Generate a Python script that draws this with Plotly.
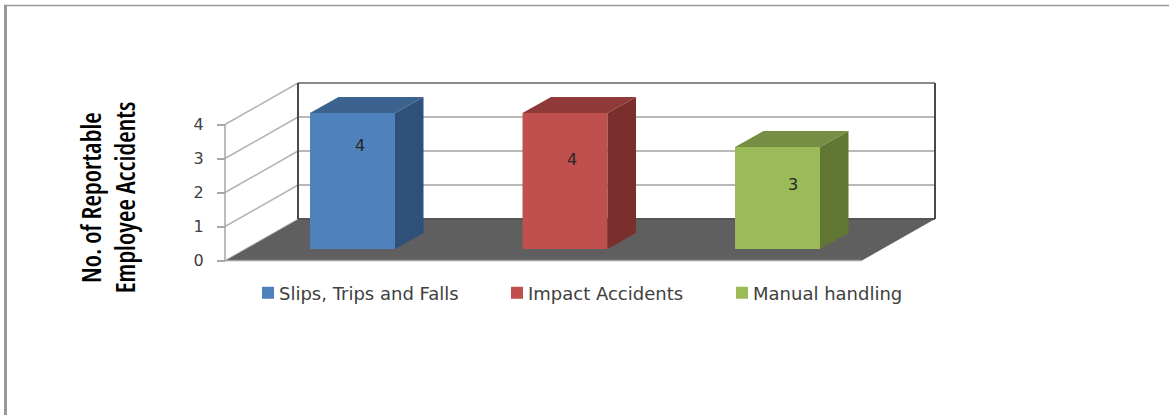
import plotly.graph_objects as go

categories = ["Slips, Trips and Falls", "Impact Accidents", "Manual handling"]
values = [4, 4, 3]
tick_values = [0, 1, 2, 3, 4]
front_colors = ["#4F81BD", "#C0504D", "#9BBB59"]
top_colors = ["#3C6290", "#8F3A38", "#768E43"]
side_colors = ["#2F5078", "#7A2F2D", "#637735"]

W, H = 1169, 415
UX, UY = 212.5, 34.0                # px per category / per accident
X0, Y_BAR0, Y_AX0 = 352.5, 249.0, 260.5
BAR_W = 85 / UX
BDX, BDV = 28.5 / UX, 16 / UY       # bar depth
WDX, WDV = 73 / UX, 41.5 / UY       # chart box depth
XL, XR = (225 - X0) / UX, (862 - X0) / UX
VMAX = max(tick_values)

fig = go.Figure()
for i, (c, v) in enumerate(zip(categories, values)):
    lg = "legend" if i == 0 else f"legend{i+1}"
    fig.add_trace(go.Bar(x=[i], y=[v], width=BAR_W, name=c, marker=dict(color=front_colors[i], line_width=0),
                         showlegend=True, legend=lg, hoverinfo="skip"))
    l, r = i - BAR_W / 2, i + BAR_W / 2
    fig.add_trace(go.Scatter(x=[r, r + BDX, r + BDX, r, r], y=[0, BDV, v + BDV, v, 0], mode="lines",
                             fill="toself", fillcolor=side_colors[i], line=dict(width=0),
                             showlegend=False, hoverinfo="skip"))
    fig.add_trace(go.Scatter(x=[l, l + BDX, r + BDX, r, l], y=[v, v + BDV, v + BDV, v, v], mode="lines",
                             fill="toself", fillcolor=top_colors[i], line=dict(width=0),
                             showlegend=False, hoverinfo="skip"))

# front edge of the left wall, carrying the value axis
fig.add_trace(go.Scatter(x=[XL, XL], y=[tick_values[0], tick_values[-1]], yaxis="y2", mode="lines",
                         line=dict(color="#A6A6A6", width=1.5), showlegend=False, hoverinfo="skip"))

shapes = []
def seg(x0, y0, x1, y1, color, width):
    shapes.append(dict(type="line", xref="x", yref="y2", x0=x0, y0=y0, x1=x1, y1=y1,
                       line=dict(color=color, width=width), layer="below"))

# floor
shapes.append(dict(type="path", xref="x", yref="y2", layer="below", fillcolor="#5F5F5F", line=dict(width=0),
                   path=f"M{XL},0 L{XL+WDX},{WDV} L{XR+WDX},{WDV} L{XR},0 Z"))
# gridlines on both walls
for t in tick_values[1:]:
    seg(XL, t, XL + WDX, t + WDV, "#B4B4B4", 1.5)
    seg(XL + WDX, t + WDV, XR + WDX, t + WDV, "#8A8A8A" if t == VMAX else "#B8B8B8", 2)
seg(XL + WDX, WDV, XR + WDX, WDV, "#555555", 2)
seg(XL, 0, XL + WDX, WDV, "#B4B4B4", 1)
seg(XL, 0, XR, 0, "#A0A0A0", 1.5)
seg(XL + WDX, WDV, XL + WDX, VMAX + WDV, "#4A4A4A", 2)
seg(XR + WDX, WDV, XR + WDX, VMAX + WDV, "#4A4A4A", 2)
# page frame
for x0, y0, x1, y1, w in [(5.5 / W, 0, 5.5 / W, 1 - 6 / H, 3), (4 / W, 1 - 5.5 / H, 1, 1 - 5.5 / H, 1.5)]:
    shapes.append(dict(type="line", xref="paper", yref="paper", x0=x0, y0=y0, x1=x1, y1=y1,
                       line=dict(color="#989898", width=w)))

LABEL_FONT = dict(family="DejaVu Sans", size=16, color="#262626")
annotations = [
    dict(x=i, y=v, xref="x", yref="y", text=str(v), showarrow=False, font=LABEL_FONT, xshift=dx, yshift=dy)
    for i, (v, dx, dy) in enumerate(zip(values, [7.5, 7, 15], [-32, -46, -37]))
]
annotations.append(dict(x=108 / W, y=1 - 198 / H, xref="paper", yref="paper", xanchor="center", yanchor="middle",
                        textangle=-90, showarrow=False,
                        text="No. of Reportable<br>Employee Accidents", align="center",
                        font=dict(family="Open Sans", size=26.5, color="#000000", weight=600)))

legend_style = dict(orientation="h", xanchor="left", yanchor="middle", y=1 - 293 / H,
                    bgcolor="rgba(0,0,0,0)", font=dict(family="DejaVu Sans", size=18, color="#404040"), itemwidth=30)

fig.update_layout(
    width=W, height=H, autosize=False, margin=dict(l=0, r=0, t=0, b=0),
    paper_bgcolor="white", plot_bgcolor="white", barmode="overlay", hovermode=False,
    xaxis=dict(range=[-X0 / UX, (W - X0) / UX], visible=False, fixedrange=True),
    yaxis=dict(range=[(Y_BAR0 - H) / UY, Y_BAR0 / UY], visible=False, fixedrange=True),
    yaxis2=dict(range=[(Y_AX0 - H) / UY, Y_AX0 / UY], overlaying="y", anchor="free", position=225 / W, side="left",
                tickvals=tick_values, ticks="outside", ticklen=8, tickwidth=1.5, tickcolor="#A6A6A6",
                ticklabelstandoff=10, showgrid=False, zeroline=False, showline=False, automargin=False, fixedrange=True,
                tickfont=dict(family="DejaVu Sans", size=16, color="#404040")),
    legend=dict(x=248 / W, **legend_style),
    legend2=dict(x=497 / W, **legend_style),
    legend3=dict(x=722 / W, **legend_style),
    shapes=shapes, annotations=annotations,
)
post = """
var css = document.createElement('style');
css.textContent = "body{margin:0} "
                + "text.legendtext,text.legend2text,text.legend3text{transform:translateX(-9px)} "
                + "g.annotation[data-index='3'] text{font-stretch:75%}";
document.head.appendChild(css);
"""
fig.write_html("out.html", post_script=post, config=dict(displayModeBar=False))
